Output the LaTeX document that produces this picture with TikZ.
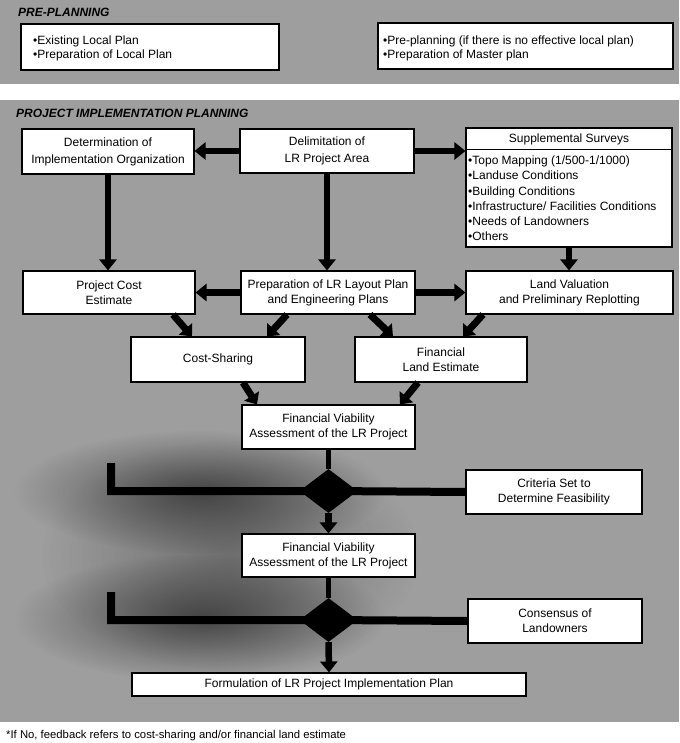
\documentclass[tikz,border=0pt]{standalone}
\usepackage{fontspec}
\setmainfont{Liberation Sans}
\usetikzlibrary{shapes.geometric,arrows.meta,fadings}

\tikzfading[name=haze, inner color=transparent!0, outer color=transparent!100]

\begin{document}
\begin{tikzpicture}[x=1pt,y=-1pt,
  panel/.style={fill=black!38, draw=none},
  box/.style={draw=black, line width=1.1pt, fill=white, inner sep=0pt, align=center,
    font=\fontsize{12}{15}\selectfont},
  wide/.style={font=\fontsize{12}{17}\selectfont},
  itemtext/.style={anchor=west, align=left, inner sep=0pt, font=\fontsize{12}{14}\selectfont},
  flow/.style={line width=6.5pt, -{Triangle[length=11pt,width=17pt]}},
  diag/.style={line width=7pt, -{Triangle[length=10pt,width=17pt]}},
  bar/.style={line width=8pt, line join=miter},
  stem/.style={line width=5pt},
  heading/.style={font=\fontsize{12}{14}\selectfont\bfseries\itshape, anchor=west, inner sep=0pt},
  dec/.style={diamond, fill=black, inner sep=0pt, minimum width=58pt, minimum height=44pt},
]
\useasboundingbox (0,0) rectangle (679,743);

% background panels
\fill[panel] (0,0) rectangle (679,84);
\fill[panel] (0,100) rectangle (679,722);

% dark haze around the decision bars
\fill[black, opacity=0.5, path fading=haze] (200,492) ellipse [x radius=185, y radius=62];
\fill[black, opacity=0.5, path fading=haze] (200,618) ellipse [x radius=185, y radius=64];
\fill[black, opacity=0.3, path fading=haze] (230,555) ellipse [x radius=190, y radius=115];

% headings
\node[heading] (t1) at (18,12) {PRE-PLANNING};
\node[heading] (t2) at (16,113) {PROJECT IMPLEMENTATION PLANNING};

% pre-planning boxes
\node[box, minimum width=258pt, minimum height=46pt] (pp1) at (150,47) {};
\node[itemtext] (pp1t) at (33,48) {•Existing Local Plan\\•Preparation of Local Plan};
\node[box, minimum width=295pt, minimum height=46pt] (pp2) at (525.5,46) {};
\node[itemtext] (pp2t) at (383,48) {•Pre-planning (if there is no effective local plan)\\•Preparation of Master plan};

% decision connectors, laid under the decision diamonds
\coordinate (c1) at (328.5,491);
\coordinate (c2) at (328.5,620);
\coordinate (fb1) at (111,491);
\coordinate (fb1top) at (111,463);
\coordinate (fb2) at (111,620);
\coordinate (fb2top) at (111,592);

% project implementation planning boxes
\node[box, wide, minimum width=172pt, minimum height=45pt] (det) at (108,151.5) {Determination of\\Implementation Organization};
\node[box, wide, minimum width=174pt, minimum height=44pt] (delim) at (327,151) {Delimitation of\\LR Project Area};
\node[box, minimum width=206pt, minimum height=119pt] (supp) at (569,187.5) {};
\draw[line width=1.1pt] ([yshift=-22pt]supp.north west) -- ([yshift=-22pt]supp.north east);
\node[inner sep=0pt, font=\fontsize{12}{15}\selectfont] (supph) at (569,139.5) {Supplemental Surveys};
\node[itemtext, font=\fontsize{12}{15.2}\selectfont] (suppt) at (468,198.5)
  {•Topo Mapping (1/500-1/1000)\\•Landuse Conditions\\•Building Conditions\\•Infrastructure/ Facilities Conditions\\•Needs of Landowners\\•Others};

\node[box, minimum width=172pt, minimum height=43pt] (projcost) at (109,292.5) {Project Cost\\Estimate};
\node[box, minimum width=174pt, minimum height=43pt] (prep) at (328,292.5) {Preparation of LR Layout Plan\\and Engineering Plans};
\node[box, minimum width=207pt, minimum height=43pt] (landval) at (569.5,292.5) {Land Valuation\\and Preliminary Replotting};

\node[box, minimum width=174pt, minimum height=45pt] (cost) at (218,359.5) {Cost-Sharing};
\node[box, minimum width=172pt, minimum height=45pt] (fle) at (441,359.5) {Financial\\Land Estimate};

\node[box, minimum width=173pt, minimum height=44pt] (fv1) at (328.5,427) {Financial Viability\\Assessment of the LR Project};
\node[box, minimum width=176pt, minimum height=44pt] (crit) at (554,492) {Criteria Set to\\Determine Feasibility};
\node[box, minimum width=173pt, minimum height=43pt] (fv2) at (328.5,555.5) {Financial Viability\\Assessment of the LR Project};
\node[box, minimum width=174pt, minimum height=44pt] (cons) at (555,621) {Consensus of\\Landowners};
\node[box, minimum width=394pt, minimum height=23pt] (form) at (329,684.5) {Formulation of LR Project Implementation Plan};

% bars meeting at the decision points
\draw[bar] (crit.west) -- (c1) -- (fb1) -- (fb1top);
\draw[bar] (cons.west) -- (c2) -- (fb2) -- (fb2top);

% decision points
\node[dec] (d1) at (c1) {};
\node[dec] (d2) at (c2) {};

% connectors
\draw[flow] (delim.west) -- (delim.west -| det.east);
\draw[flow] (delim.east) -- (delim.east -| supp.west);
\draw[flow] (det.south) -- (det.south |- projcost.north);
\draw[flow] (delim.south) -- (delim.south |- prep.north);
\draw[flow] (supp.south) -- (supp.south |- landval.north);
\draw[flow] (prep.west) -- (projcost.east);
\draw[flow] (prep.east) -- (landval.west);

\draw[diag] ([xshift=64pt]projcost.south) -- ([xshift=-26pt]cost.north);
\draw[diag] ([xshift=-41pt]prep.south) -- ([xshift=49pt]cost.north);
\draw[diag] ([xshift=42pt]prep.south) -- ([xshift=-48pt]fle.north);
\draw[diag] ([xshift=-86.5pt]landval.south) -- ([xshift=22pt]fle.north);
\draw[diag] ([xshift=25pt]cost.south) -- ([xshift=-71.5pt]fv1.north);
\draw[diag] ([xshift=-23pt]fle.south) -- ([xshift=71.5pt]fv1.north);

\draw[stem] (fv1.south) -- (d1.north);
\draw[flow] (d1.south) -- (fv2.north);
\draw[stem] (fv2.south) -- (d2.north);
\draw[flow] (d2.south) -- (form.north);

% footnote
\node[anchor=west, inner sep=0pt, font=\fontsize{11.3}{13}\selectfont] (note) at (6,736)
  {*If No, feedback refers to cost-sharing and/or financial land estimate};
\end{tikzpicture}
\end{document}
